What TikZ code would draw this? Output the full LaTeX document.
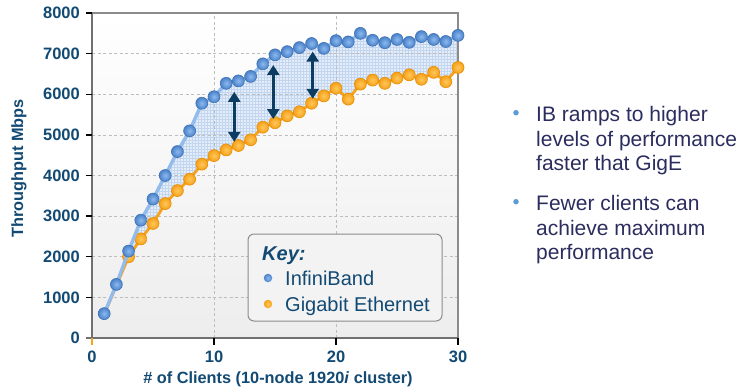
\documentclass[tikz,border=0pt]{standalone}
\usepackage{fontspec}
\setmainfont{Liberation Sans}
\usetikzlibrary{arrows.meta,patterns}
\definecolor{axisblue}{HTML}{124A73}
\definecolor{bultext}{HTML}{2B2D5E}
\definecolor{bulblue}{HTML}{5B9BD5}
\definecolor{ibline}{HTML}{93BBEC}
\definecolor{ibin}{HTML}{8DB9EE}
\definecolor{ibout}{HTML}{4A82CA}
\definecolor{ibedge}{HTML}{3F72B4}
\definecolor{geline}{HTML}{F5A21C}
\definecolor{gein}{HTML}{FFC85A}
\definecolor{geout}{HTML}{F5A01A}
\definecolor{geedge}{HTML}{E88E00}
\definecolor{fillblue}{HTML}{E4EDF9}
\definecolor{patblue}{HTML}{C3D6EF}
\definecolor{arrownavy}{HTML}{0C3C62}
\definecolor{gridgray}{HTML}{BDBDBD}
\definecolor{framegray}{HTML}{8C8C8C}
\definecolor{axisgray}{HTML}{707070}
\definecolor{keyfill}{HTML}{F3F3F3}
\begin{document}
\begin{tikzpicture}[x=1pt,y=-1pt,
  gridline/.style={gridgray,dashed,dash pattern=on 3pt off 2.5pt,line width=0.8pt},
  frameline/.style={framegray,line width=1.2pt},
  axisline/.style={axisgray,line width=1.3pt},
  tickline/.style={black,line width=1.4pt},
  ticklab/.style={text=axisblue,font=\fontsize{16.5}{18}\selectfont\bfseries,inner sep=0pt},
  axtitle/.style={text=axisblue,font=\fontsize{16.3}{18}\selectfont\bfseries,inner sep=0pt},
  ibmark/.style={circle,inner sep=0pt,minimum size=12pt,inner color=ibin,outer color=ibout,draw=ibedge,line width=0.6pt},
  gemark/.style={circle,inner sep=0pt,minimum size=12pt,inner color=gein,outer color=geout,draw=geedge,line width=0.6pt},
  gaparrow/.style={arrownavy,line width=2.8pt,{Triangle[width=12pt,length=10pt]}-{Triangle[width=12pt,length=10pt]}},
  keytext/.style={text=axisblue,font=\fontsize{20}{22}\selectfont,inner sep=0pt,anchor=base west},
  bullettext/.style={text=bultext,font=\fontsize{21}{24}\selectfont,inner sep=0pt,anchor=base west},
  bulletdot/.style={circle,fill=bulblue,inner sep=0pt,minimum size=5.5pt}
]
\useasboundingbox (0,0) rectangle (743,389);
\fill[white] (0,0) rectangle (743,389);

\begin{scope}[shift={(92pt,-338pt)},x=12.2pt,y=0.040625pt]
  \coordinate (o) at (0,0);
  \coordinate (tr) at (30,8000);
  \shade[top color=white,bottom color=gray!14] (o) rectangle (tr);

  \foreach \i/\v in {1/600,2/1320,3/2140,4/2900,5/3420,6/4000,7/4590,8/5100,9/5780,10/5940,
    11/6270,12/6330,13/6440,14/6750,15/6970,16/7050,17/7150,18/7250,19/7130,20/7320,
    21/7290,22/7500,23/7330,24/7270,25/7350,26/7280,27/7420,28/7350,29/7300,30/7450}
    \coordinate (ib\i) at (\i,\v);
  \foreach \i/\v in {1/580,2/1290,3/2000,4/2440,5/2820,6/3310,7/3630,8/3910,9/4280,10/4490,
    11/4630,12/4740,13/4880,14/5190,15/5300,16/5470,17/5570,18/5780,19/5960,20/6150,
    21/5880,22/6250,23/6350,24/6270,25/6400,26/6480,27/6370,28/6540,29/6310,30/6660}
    \coordinate (ge\i) at (\i,\v);

  % band between curves
  \fill[fillblue] (ib1) \foreach \i in {2,...,30}{--(ib\i)} \foreach \i in {30,29,...,1}{--(ge\i)} -- cycle;
  \fill[pattern=grid,pattern color=patblue] (ib1) \foreach \i in {2,...,30}{--(ib\i)} \foreach \i in {30,29,...,1}{--(ge\i)} -- cycle;

  % grid
  \foreach \y in {1000,2000,...,7000} \draw[gridline] (0,\y) -- (30,\y);
  \foreach \x in {10,20} \draw[gridline] (\x,0) -- (\x,8000);

  % frame and axes
  \draw[frameline] (0,8000) -- (30,8000) -- (30,0);
  \draw[axisline] (0,8000) -- (0,0) -- (30,0);
  \foreach \y in {1000,2000,...,8000} \draw[tickline] (0,\y) -- ++(-6pt,0);
  \draw[axisgray,line width=1.2pt] (0,0) -- ++(-6pt,0);
  \foreach \x in {10,20,30} \draw[tickline] (\x,0) -- ++(0,-7pt);
  \draw[geline,line width=1.4pt] (0,0) -- ++(0,-7pt);

  \foreach \y in {0,1000,...,8000}
    \node[ticklab,anchor=east] (yl\y) at ([xshift=-12pt]0,\y) {\y};
  \foreach \x in {0,10,20,30}
    \node[ticklab] (xl\x) at ([yshift=-18.5pt]\x,0) {\x};

  % series
  \draw[geline,line width=2.8pt,line join=round] (ge1) \foreach \i in {2,...,30}{--(ge\i)};
  \foreach \i in {3,4,...,30} \node[gemark] (gem\i) at (ge\i) {};
  \draw[ibline,line width=3.4pt,line join=round] (ib1) \foreach \i in {2,...,30}{--(ib\i)};
  \foreach \i in {1,2,...,30} \node[ibmark] (ibm\i) at (ib\i) {};

  % gap arrows
  \coordinate (a1t) at (11.66,6060); \coordinate (a1b) at (11.66,4830);
  \coordinate (a2t) at (14.86,6720); \coordinate (a2b) at (14.86,5390);
  \coordinate (a3t) at (18.09,7050); \coordinate (a3b) at (18.09,5890);
  \draw[gaparrow] (a1t) -- (a1b);
  \draw[gaparrow] (a2t) -- (a2b);
  \draw[gaparrow] (a3t) -- (a3b);
\end{scope}

% axis titles
\node[axtitle,rotate=90] (ytitle) at (19,168.5) {Throughput Mbps};
\node[axtitle] (xtitle) at (278,379) {\# of Clients (10-node 1920\textit{i} cluster)};

% key
\draw[framegray,fill=keyfill,rounded corners=6pt,line width=1pt] (248,234) rectangle (442,321);
\node[keytext,font=\fontsize{20}{22}\selectfont\bfseries\itshape] (keyhead) at (262,260) {Key:};
\node[circle,inner sep=0pt,minimum size=8.5pt,inner color=ibin,outer color=ibout] (keyib) at (268,278) {};
\node[keytext] (keyibt) at (285,285) {InfiniBand};
\node[circle,inner sep=0pt,minimum size=8.5pt,inner color=gein,outer color=geout] (keyge) at (268,304) {};
\node[keytext] (keyget) at (285,311) {Gigabit Ethernet};

% bullets
\node[bulletdot] (bd1) at (516,112.7) {};
\node[bullettext] (b1l1) at (536,121.5) {IB ramps to higher};
\node[bullettext] (b1l2) at (536,146.2) {levels of performance};
\node[bullettext] (b1l3) at (536,170.9) {faster that GigE};
\node[bulletdot] (bd2) at (516,201.7) {};
\node[bullettext] (b2l1) at (536,210.3) {Fewer clients can};
\node[bullettext] (b2l2) at (536,235) {achieve maximum};
\node[bullettext] (b2l3) at (536,259.7) {performance};
\end{tikzpicture}
\end{document}
